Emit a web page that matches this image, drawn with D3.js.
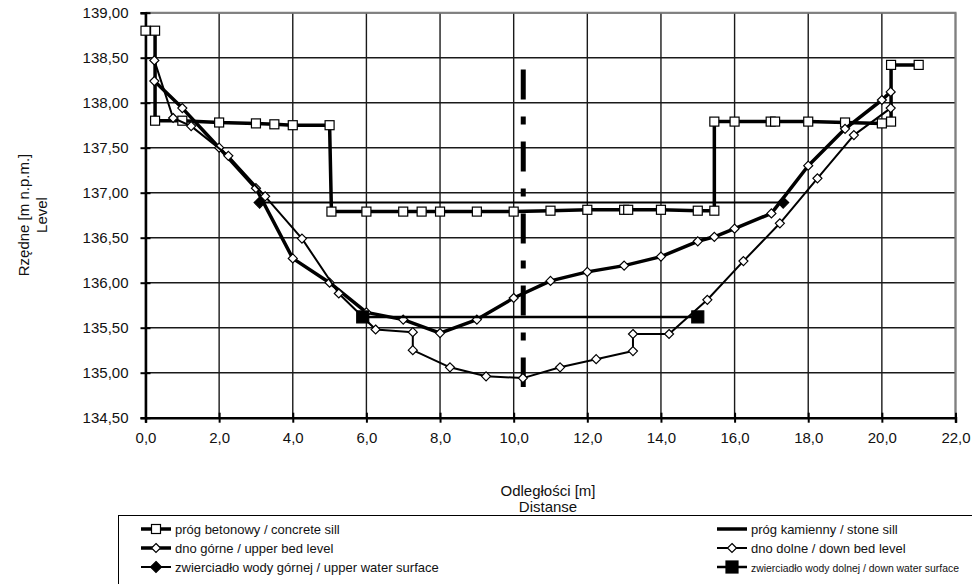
<!DOCTYPE html>
<html><head><meta charset="utf-8">
<script src="https://cdn.jsdelivr.net/npm/d3@7"></script>
<style>
body{margin:0;background:#fff;}
svg{display:block;font-family:"Liberation Sans",Arial,sans-serif;}
</style></head>
<body>
<svg id="chart" width="972" height="584"></svg>
<script>
// ---- data ----
const concreteX = [0,0.26,0.26,1.0,2.0,3.0,3.5,4.0,5.0,5.05,6.0,7.0,7.5,8.0,9.0,10.0,11.0,12.0,13.0,13.11,14.0,15.0,15.45,15.45,16.0,16.98,17.1,18.0,19.0,20.0,20.25,20.25,21.0];
const concreteY = [138.80,138.80,137.80,137.80,137.78,137.77,137.76,137.75,137.75,136.79,136.79,136.79,136.79,136.79,136.79,136.79,136.80,136.81,136.81,136.81,136.81,136.80,136.80,137.79,137.79,137.79,137.79,137.79,137.78,137.77,137.79,138.42,138.42];
const stoneX = [10.26,10.26];
const stoneY = [138.37,134.84];
const upperBedX = [0.24,1.0,2.0,3.0,4.0,5.0,6.0,7.0,8.0,9.0,10.0,11.0,12.0,13.0,14.0,15.0,15.45,16.0,17.0,18.0,19.0,20.0,20.24];
const upperBedY = [138.24,137.94,137.50,137.05,136.27,136.00,135.67,135.59,135.44,135.59,135.83,136.02,136.12,136.19,136.29,136.46,136.51,136.60,136.77,137.30,137.71,138.03,138.12];
const downBedX = [0.24,0.75,1.24,2.25,3.25,4.25,5.25,6.25,7.26,7.26,8.27,9.25,10.25,11.26,12.24,13.24,13.24,14.22,15.26,16.24,17.23,18.25,19.24,20.24];
const downBedY = [138.47,137.83,137.74,137.41,136.96,136.49,135.88,135.48,135.45,135.25,135.06,134.96,134.94,135.06,135.15,135.24,135.43,135.43,135.81,136.24,136.66,137.16,137.64,137.94];
const upperWaterX = [3.1,17.32];
const upperWaterY = [136.89,136.89];
const downWaterX = [5.9,15.0];
const downWaterY = [135.62,135.62];
const xTicks = [0,2,4,6,8,10,12,14,16,18,20,22];
const yTicks = [134.5,135,135.5,136,136.5,137,137.5,138,138.5,139];
const legendLabels = ["próg betonowy / concrete sill","próg kamienny / stone sill","dno górne / upper bed level","dno dolne / down bed level","zwierciadło wody górnej / upper water surface","zwierciadło wody dolnej / down water surface"];

const zip = (xs, ys) => xs.map((v,i)=>[v, ys[i]]);

const svg = d3.select("#chart");
const L=145.5, R=955.5, T=12.7, B=417.7;
const x = d3.scaleLinear().domain([0,22]).range([L,R]);
const y = d3.scaleLinear().domain([134.5,139]).range([B,T]);
const loc = d3.formatLocale({decimal:",",thousands:" ",grouping:[3],currency:["",""]});
const fx = loc.format(".1f"), fy = loc.format(".2f");
const FS = 15;

// grid
const g = svg.append("g");
g.selectAll(".gh").data(yTicks).join("line")
 .attr("x1",L).attr("x2",R).attr("y1",d=>y(d)).attr("y2",d=>y(d))
 .attr("stroke","#1a1a1a").attr("stroke-width",1.4);
g.selectAll(".gv").data(xTicks).join("line")
 .attr("y1",T).attr("y2",B).attr("x1",d=>x(d)).attr("x2",d=>x(d))
 .attr("stroke","#1a1a1a").attr("stroke-width",1.4);
svg.append("path").attr("d",`M${L},${T}H${R}V${B}`).attr("fill","none").attr("stroke","#808080").attr("stroke-width",2);

// axes
const ax = svg.append("g").attr("transform",`translate(0,${B})`)
 .call(d3.axisBottom(x).tickValues(xTicks).tickFormat(fx).tickSize(5).tickPadding(10));
ax.selectAll(".tick line").attr("y1",-5).attr("stroke","#000").attr("stroke-width",2);
ax.select(".domain").attr("stroke","#000").attr("stroke-width",2.5);
const ay = svg.append("g").attr("transform",`translate(${L},0)`)
 .call(d3.axisLeft(y).tickValues(yTicks).tickFormat(fy).tickSize(5).tickPadding(12));
ay.selectAll(".tick line").attr("x1",5).attr("stroke","#000").attr("stroke-width",2);
ay.select(".domain").attr("stroke","#000").attr("stroke-width",2.5);
svg.selectAll(".tick text").attr("font-size",FS).attr("fill","#111").attr("font-family","Liberation Sans, Arial, sans-serif");

// titles
svg.append("text").attr("x",548).attr("y",496).attr("text-anchor","middle").attr("font-size",FS).attr("fill","#111").text("Odległości [m]");
svg.append("text").attr("x",548).attr("y",512).attr("text-anchor","middle").attr("font-size",FS).attr("fill","#111").text("Distanse");
svg.append("text").attr("transform","translate(29,215) rotate(-90)").attr("text-anchor","middle").attr("font-size",FS).attr("fill","#111").text("Rzędne [m n.p.m.]");
svg.append("text").attr("transform","translate(47,215) rotate(-90)").attr("text-anchor","middle").attr("font-size",FS).attr("fill","#111").text("Level");

const line = d3.line().x(d=>x(d[0])).y(d=>y(d[1]));
function drawLine(data, w, dash){
  const p = svg.append("path").datum(data).attr("d",line).attr("fill","none")
   .attr("stroke","#000").attr("stroke-width",w).attr("stroke-linejoin","round");
  if(dash) p.attr("stroke-dasharray",dash);
}
function sq(cx,cy,s,fill){
  svg.append("rect").attr("x",cx-s/2).attr("y",cy-s/2).attr("width",s).attr("height",s)
   .attr("fill",fill).attr("stroke","#000").attr("stroke-width",1.2);
}
function dia(cx,cy,r,fill){
  svg.append("path").attr("d",`M${cx},${cy-r}L${cx+r},${cy}L${cx},${cy+r}L${cx-r},${cy}Z`)
   .attr("fill",fill).attr("stroke","#000").attr("stroke-width",1.2);
}

const concrete = zip(concreteX, concreteY);
const stone = zip(stoneX, stoneY);
const upBed = zip(upperBedX, upperBedY);
const dnBed = zip(downBedX, downBedY);
const upW = zip(upperWaterX, upperWaterY);
const dnW = zip(downWaterX, downWaterY);

drawLine(concrete, 3.5);
concrete.forEach(d=>sq(x(d[0]),y(d[1]),9,"#fff"));
drawLine(stone, 5, "30,17,8,17");
drawLine(upBed, 3.5);
upBed.forEach(d=>dia(x(d[0]),y(d[1]),4.5,"#fff"));
drawLine(dnBed, 2);
dnBed.forEach(d=>dia(x(d[0]),y(d[1]),4.5,"#fff"));
drawLine(upW, 2);
upW.forEach(d=>dia(x(d[0]),y(d[1]),5.5,"#000"));
drawLine(dnW, 2.5);
dnW.forEach(d=>sq(x(d[0]),y(d[1]),12,"#000"));

// legend
svg.append("rect").attr("x",118.5).attr("y",515.5).attr("width",880).attr("height",90)
 .attr("fill","#fff").attr("stroke","#000").attr("stroke-width",1);
const legCols = [141, 717];
const rowsY = [529, 548, 567];
legendLabels.forEach((lab,i)=>{
  const cx0 = legCols[i%2], cy = rowsY[Math.floor(i/2)];
  const mx = cx0+15;
  const widths=[3.5,3.5,3.5,2,2,2.5];
  svg.append("line").attr("x1",cx0).attr("x2",cx0+30).attr("y1",cy).attr("y2",cy)
   .attr("stroke","#000").attr("stroke-width",widths[i]);
  if(i===0) sq(mx,cy,9,"#fff");
  if(i===2||i===3) dia(mx,cy,4.5,"#fff");
  if(i===4) dia(mx,cy,5.5,"#000");
  if(i===5) sq(mx,cy,12,"#000");
  const t = svg.append("text").attr("x",cx0+34).attr("y",cy+4.5).attr("font-size",13).attr("fill","#111").text(lab);
  const avail = 960 - (cx0+34);
  const w = t.node().getComputedTextLength();
  if (w > avail) t.attr("font-size", Math.floor(13*avail/w*10)/10);
});
</script>
</body></html>
